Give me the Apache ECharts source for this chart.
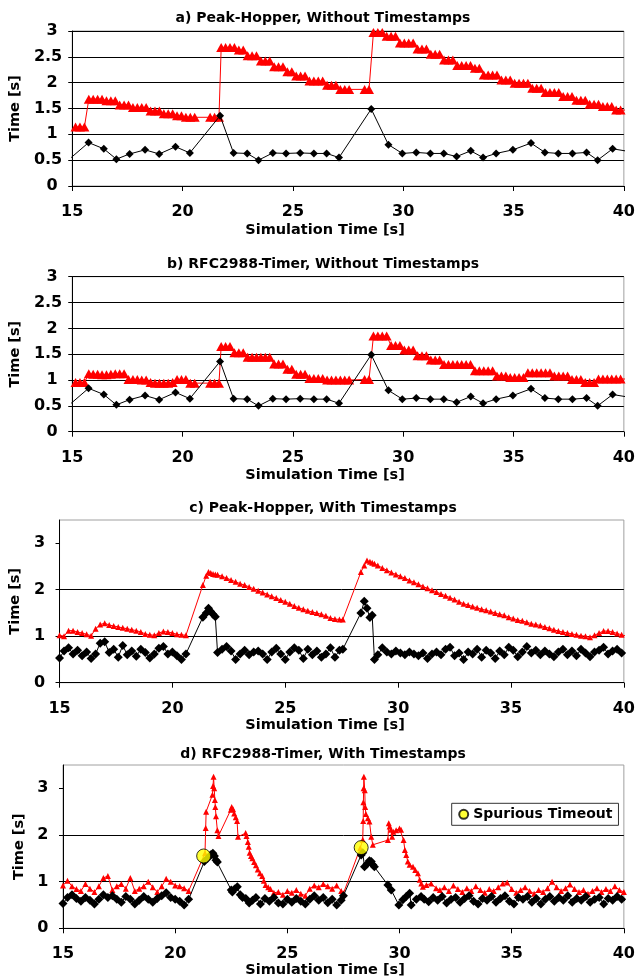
<!DOCTYPE html>
<html>
<head>
<meta charset="utf-8">
<script src="https://cdn.jsdelivr.net/npm/echarts@6/dist/echarts.min.js"></script>
<style>
  html, body { margin: 0; padding: 0; background: #ffffff; }
  #chart { width: 638px; height: 980px; }
</style>
</head>
<body>
<div id="chart"></div>
<script>
// ---------------------------------------------------------------
// Data
// ---------------------------------------------------------------
const panelTitles = [
  'a) Peak-Hopper, Without Timestamps',
  'b) RFC2988-Timer, Without Timestamps',
  'c) Peak-Hopper, With Timestamps',
  'd) RFC2988-Timer, With Timestamps'
];
const xAxisTitle = 'Simulation Time [s]';
const yAxisTitle = 'Time [s]';
const legendLabel = 'Spurious Timeout';

// RTT samples without timestamps (one per round trip), shared by a) and b): [time, RTT]
const rttNoTs = [
  [14.95, 0.55], [15.74, 0.84], [16.43, 0.72], [17.0, 0.52], [17.6, 0.62], [18.3, 0.70],
  [18.94, 0.62], [19.68, 0.76], [20.33, 0.64], [21.7, 1.36], [22.31, 0.64], [22.93, 0.63],
  [23.44, 0.50], [24.09, 0.64], [24.69, 0.63], [25.33, 0.64], [25.95, 0.63], [26.53, 0.63],
  [27.09, 0.55], [28.55, 1.49], [29.33, 0.80], [29.96, 0.63], [30.59, 0.65], [31.23, 0.63],
  [31.84, 0.63], [32.42, 0.57], [33.06, 0.68], [33.62, 0.55], [34.21, 0.63], [34.97, 0.70],
  [35.79, 0.83], [36.42, 0.65], [37.03, 0.63], [37.67, 0.63], [38.31, 0.65], [38.81, 0.50],
  [39.49, 0.72], [40.2, 0.67]
];

// Sample times of the RTO estimate in a) and b)
const rtoTimeNoTs = [
  15.15, 15.35, 15.55, 15.75, 15.95, 16.15, 16.35, 16.55, 16.75, 16.95,
  17.15, 17.35, 17.55, 17.75, 17.95, 18.15, 18.35, 18.55, 18.75, 18.95,
  19.15, 19.35, 19.55, 19.75, 19.95, 20.15, 20.35, 20.55,
  21.25, 21.45, 21.65,
  21.75, 21.95, 22.15, 22.35, 22.55, 22.75, 22.95, 23.15, 23.35, 23.55,
  23.75, 23.95, 24.15, 24.35, 24.55, 24.75, 24.95, 25.15, 25.35, 25.55,
  25.75, 25.95, 26.15, 26.35, 26.55, 26.75, 26.95, 27.15, 27.35, 27.55,
  28.25, 28.45,
  28.65, 28.85, 29.05, 29.25, 29.45, 29.65, 29.85, 30.05, 30.25, 30.45,
  30.65, 30.85, 31.05, 31.25, 31.45, 31.65, 31.85, 32.05, 32.25, 32.45,
  32.65, 32.85, 33.05, 33.25, 33.45, 33.65, 33.85, 34.05, 34.25, 34.45,
  34.65, 34.85, 35.05, 35.25, 35.45, 35.65, 35.85, 36.05, 36.25, 36.45,
  36.65, 36.85, 37.05, 37.25, 37.45, 37.65, 37.85, 38.05, 38.25, 38.45,
  38.65, 38.85, 39.05, 39.25, 39.45, 39.65, 39.85, 40.05
];

// a) Peak-Hopper RTO, without timestamps
const rtoPeakHopperNoTs = [
  1.14, 1.14, 1.14, 1.68, 1.68, 1.68, 1.68, 1.65, 1.65, 1.65,
  1.57, 1.57, 1.57, 1.52, 1.52, 1.52, 1.52, 1.45, 1.45, 1.45,
  1.40, 1.40, 1.40, 1.36, 1.36, 1.33, 1.33, 1.33,
  1.33, 1.33, 1.33,
  2.68, 2.68, 2.68, 2.68, 2.63, 2.63, 2.52, 2.52, 2.52, 2.42,
  2.42, 2.42, 2.31, 2.31, 2.31, 2.21, 2.21, 2.13, 2.13, 2.13,
  2.03, 2.03, 2.03, 2.03, 1.95, 1.95, 1.95, 1.87, 1.87, 1.87,
  1.87, 1.87,
  2.97, 2.97, 2.97, 2.90, 2.90, 2.90, 2.77, 2.77, 2.77, 2.77,
  2.65, 2.65, 2.65, 2.55, 2.55, 2.55, 2.44, 2.44, 2.44, 2.33,
  2.33, 2.33, 2.33, 2.28, 2.28, 2.15, 2.15, 2.15, 2.15, 2.05,
  2.05, 2.05, 1.99, 1.99, 1.99, 1.99, 1.89, 1.89, 1.89, 1.81,
  1.81, 1.81, 1.81, 1.73, 1.73, 1.73, 1.66, 1.66, 1.66, 1.58,
  1.58, 1.58, 1.54, 1.54, 1.54, 1.47, 1.47, 1.47
];

// b) RFC2988 RTO, without timestamps
const rtoRfcNoTs = [
  0.95, 0.95, 0.95, 1.12, 1.11, 1.11, 1.10, 1.10, 1.11, 1.12,
  1.12, 1.12, 1.01, 1.01, 1.01, 1.00, 1.00, 0.95, 0.94, 0.94,
  0.94, 0.94, 0.95, 1.01, 1.01, 1.01, 0.94, 0.94,
  0.94, 0.94, 0.94,
  1.65, 1.65, 1.65, 1.53, 1.53, 1.53, 1.44, 1.44, 1.44, 1.44,
  1.44, 1.44, 1.31, 1.31, 1.31, 1.21, 1.21, 1.11, 1.11, 1.11,
  1.03, 1.03, 1.03, 1.03, 1.00, 1.00, 1.00, 1.00, 1.00, 1.00,
  1.01, 1.01,
  1.85, 1.85, 1.85, 1.85, 1.67, 1.67, 1.67, 1.58, 1.58, 1.58,
  1.47, 1.47, 1.47, 1.39, 1.39, 1.39, 1.30, 1.30, 1.30, 1.30,
  1.30, 1.30, 1.30, 1.18, 1.18, 1.18, 1.18, 1.18, 1.08, 1.08,
  1.08, 1.05, 1.05, 1.05, 1.05, 1.14, 1.14, 1.14, 1.14, 1.14,
  1.14, 1.08, 1.08, 1.08, 1.08, 1.01, 1.01, 1.01, 0.95, 0.95,
  0.95, 1.02, 1.02, 1.02, 1.02, 1.02, 1.02, 1.02
];

// c) Peak-Hopper with timestamps: sample times, RTT and RTO
const timeC = [
  15.0, 15.2, 15.4, 15.6, 15.8, 16.0, 16.2, 16.4, 16.6, 16.8,
  17.0, 17.2, 17.4, 17.6, 17.8, 18.0, 18.2, 18.4, 18.6, 18.8,
  19.0, 19.2, 19.4, 19.6, 19.8, 20.0, 20.2, 20.4, 20.6,
  21.35, 21.5, 21.6, 21.7, 21.8, 21.9,
  22.0, 22.2, 22.4, 22.6, 22.8, 23.0, 23.2, 23.4, 23.6, 23.8,
  24.0, 24.2, 24.4, 24.6, 24.8, 25.0, 25.2, 25.4, 25.6, 25.8,
  26.0, 26.2, 26.4, 26.6, 26.8, 27.0, 27.2, 27.4, 27.55,
  28.35, 28.5, 28.62, 28.75, 28.85, 28.95,
  29.1, 29.3, 29.5, 29.7, 29.9, 30.1, 30.3, 30.5, 30.7, 30.9,
  31.1, 31.3, 31.5, 31.7, 31.9, 32.1, 32.3, 32.5, 32.7, 32.9,
  33.1, 33.3, 33.5, 33.7, 33.9, 34.1, 34.3, 34.5, 34.7, 34.9,
  35.1, 35.3, 35.5, 35.7, 35.9, 36.1, 36.3, 36.5, 36.7, 36.9,
  37.1, 37.3, 37.5, 37.7, 37.9, 38.1, 38.3, 38.5, 38.7, 38.9,
  39.1, 39.3, 39.5, 39.7, 39.9, 40.05
];
const rtoC = [
  1.02, 1.00, 1.12, 1.12, 1.09, 1.07, 1.04, 1.01, 1.16, 1.25,
  1.28, 1.24, 1.22, 1.20, 1.18, 1.16, 1.14, 1.12, 1.09, 1.05,
  1.03, 1.02, 1.07, 1.10, 1.09, 1.07, 1.04, 1.03, 1.02,
  2.10, 2.30, 2.38, 2.36, 2.34, 2.33,
  2.32, 2.29, 2.25, 2.21, 2.17, 2.13, 2.10, 2.06, 2.02, 1.98,
  1.94, 1.90, 1.86, 1.82, 1.78, 1.74, 1.70, 1.65, 1.61, 1.58,
  1.55, 1.52, 1.50, 1.47, 1.44, 1.39, 1.37, 1.36, 1.36,
  2.38, 2.52, 2.63, 2.60, 2.58, 2.56,
  2.52, 2.47, 2.42, 2.37, 2.33, 2.29, 2.25, 2.20, 2.16, 2.12,
  2.07, 2.03, 1.99, 1.95, 1.91, 1.87, 1.83, 1.79, 1.74, 1.70,
  1.67, 1.64, 1.61, 1.58, 1.56, 1.53, 1.50, 1.47, 1.45, 1.41,
  1.38, 1.35, 1.33, 1.30, 1.27, 1.25, 1.23, 1.20, 1.17, 1.14,
  1.11, 1.09, 1.07, 1.05, 1.03, 1.01, 1.00, 0.98, 1.02, 1.07,
  1.11, 1.11, 1.09, 1.06, 1.03, 1.01
];
const rttC = [
  0.53, 0.68, 0.75, 0.62, 0.70, 0.58, 0.66, 0.52, 0.62, 0.85,
  0.88, 0.65, 0.72, 0.55, 0.80, 0.60, 0.68, 0.57, 0.72, 0.65,
  0.53, 0.62, 0.74, 0.78, 0.62, 0.66, 0.58, 0.50, 0.62,
  1.41, 1.50, 1.60, 1.53, 1.47, 1.42,
  0.65, 0.72, 0.78, 0.68, 0.50, 0.62, 0.70, 0.60, 0.66, 0.68,
  0.62, 0.50, 0.66, 0.74, 0.62, 0.50, 0.66, 0.75, 0.70, 0.52,
  0.72, 0.60, 0.68, 0.55, 0.62, 0.75, 0.55, 0.70, 0.72,
  1.50, 1.75, 1.60, 1.40, 1.45, 0.50,
  0.60, 0.75, 0.66, 0.62, 0.68, 0.64, 0.60, 0.66, 0.62, 0.58,
  0.64, 0.52, 0.62, 0.66, 0.60, 0.72, 0.76, 0.58, 0.64, 0.50,
  0.66, 0.62, 0.72, 0.55, 0.70, 0.64, 0.52, 0.68, 0.60, 0.76,
  0.70, 0.56, 0.66, 0.78, 0.64, 0.70, 0.60, 0.68, 0.62, 0.56,
  0.66, 0.72, 0.60, 0.68, 0.58, 0.72, 0.64, 0.56, 0.66, 0.70,
  0.76, 0.62, 0.68, 0.72, 0.64, 0.62
];

// d) RFC2988 timer with timestamps: [time, RTO]
const rtoD = [
  [14.7, 0.95],
  [15.0, 0.92], [15.2, 1.02], [15.4, 0.90], [15.6, 0.84], [15.8, 0.80], [16.0, 0.95], [16.2, 0.85],
  [16.4, 0.78], [16.6, 0.90], [16.8, 1.08], [17.0, 1.12], [17.2, 0.82], [17.4, 0.90], [17.6, 0.95],
  [17.8, 0.85], [18.0, 1.08], [18.2, 0.80], [18.4, 0.85], [18.6, 0.90], [18.8, 1.00], [19.0, 0.88],
  [19.2, 0.78], [19.4, 0.90], [19.6, 1.06], [19.8, 1.00], [20.0, 0.92], [20.2, 0.90], [20.4, 0.86],
  [20.6, 0.80],
  [21.33, 1.61], [21.36, 2.15], [21.38, 2.50], [21.66, 2.86], [21.69, 3.05], [21.71, 3.25],
  [21.74, 3.00], [21.77, 2.75], [21.79, 2.60], [21.82, 2.40], [21.88, 2.10], [21.93, 1.98],
  [22.48, 2.54], [22.52, 2.60], [22.58, 2.55], [22.63, 2.46], [22.70, 2.38], [22.76, 2.30],
  [22.80, 1.96],
  [23.14, 2.04], [23.18, 1.98], [23.24, 1.85], [23.28, 1.75], [23.32, 1.62], [23.38, 1.55],
  [23.44, 1.50], [23.52, 1.42], [23.60, 1.35], [23.68, 1.26], [23.78, 1.18], [23.88, 1.12],
  [23.95, 1.02], [24.03, 0.93], [24.15, 0.88], [24.25, 0.84], [24.40, 0.76],
  [24.6, 0.78], [24.8, 0.72], [25.0, 0.80], [25.2, 0.76], [25.4, 0.82], [25.6, 0.74], [25.8, 0.70],
  [26.0, 0.85], [26.2, 0.92], [26.4, 0.88], [26.6, 0.95], [26.8, 0.90], [27.0, 0.85], [27.2, 0.92],
  [27.4, 0.80], [27.5, 0.75],
  [28.25, 1.72], [28.36, 1.90], [28.38, 2.30], [28.39, 2.70], [28.40, 3.00], [28.41, 3.25],
  [28.45, 2.96], [28.47, 2.60], [28.50, 2.45], [28.59, 2.36], [28.66, 2.29], [28.74, 1.96],
  [28.81, 1.79],
  [29.48, 1.89], [29.52, 2.25], [29.56, 2.18], [29.62, 2.11], [29.67, 1.96], [29.72, 2.07],
  [29.85, 2.10], [30.00, 2.14], [30.07, 2.11], [30.18, 1.89], [30.24, 1.68], [30.30, 1.57],
  [30.37, 1.43], [30.45, 1.36], [30.60, 1.32], [30.70, 1.25], [30.82, 1.18], [30.90, 1.04],
  [30.97, 0.96], [31.04, 0.89], [31.20, 0.93], [31.41, 0.96], [31.63, 0.86],
  [31.8, 0.82], [32.0, 0.88], [32.2, 0.80], [32.4, 0.92], [32.6, 0.84], [32.8, 0.78], [33.0, 0.86],
  [33.2, 0.80], [33.4, 0.90], [33.6, 0.82], [33.8, 0.76], [34.0, 0.84], [34.2, 0.80], [34.4, 0.88],
  [34.6, 0.96], [34.8, 0.98], [35.0, 0.84], [35.2, 0.76], [35.4, 0.82], [35.6, 0.88], [35.8, 0.80],
  [36.0, 0.74], [36.2, 0.82], [36.4, 0.78], [36.6, 0.86], [36.8, 1.00], [37.0, 0.88], [37.2, 0.80],
  [37.4, 0.86], [37.6, 0.94], [37.8, 0.84], [38.0, 0.78], [38.2, 0.82], [38.4, 0.74], [38.6, 0.80],
  [38.8, 0.86], [39.0, 0.78], [39.2, 0.84], [39.4, 0.80], [39.6, 0.90], [39.8, 0.82], [40.0, 0.78],
  [40.2, 0.84], [40.3, 0.85]
];

// d) RTT samples with timestamps: [time, RTT]
const rttD = [
  [14.8, 0.66],
  [15.0, 0.53], [15.2, 0.66], [15.4, 0.72], [15.6, 0.64], [15.8, 0.58], [16.0, 0.66], [16.2, 0.60],
  [16.4, 0.52], [16.6, 0.62], [16.8, 0.72], [17.0, 0.66], [17.2, 0.70], [17.4, 0.62], [17.6, 0.56],
  [17.8, 0.68], [18.0, 0.62], [18.2, 0.52], [18.4, 0.60], [18.6, 0.68], [18.8, 0.62], [19.0, 0.56],
  [19.2, 0.64], [19.4, 0.70], [19.6, 0.76], [19.8, 0.66], [20.0, 0.62], [20.2, 0.58], [20.4, 0.50],
  [20.6, 0.62],
  [21.30, 1.43], [21.45, 1.50], [21.60, 1.58], [21.68, 1.61], [21.75, 1.55], [21.82, 1.46],
  [21.88, 1.42],
  [22.50, 0.82], [22.55, 0.78], [22.65, 0.84], [22.77, 0.89], [22.90, 0.72], [23.00, 0.66],
  [23.15, 0.64], [23.30, 0.54], [23.45, 0.60],
  [23.6, 0.66], [23.8, 0.52], [24.0, 0.64], [24.2, 0.58], [24.4, 0.66], [24.6, 0.54], [24.8, 0.52],
  [25.0, 0.62], [25.2, 0.56], [25.4, 0.64], [25.6, 0.58], [25.8, 0.52], [26.0, 0.62], [26.2, 0.70],
  [26.4, 0.60], [26.6, 0.66], [26.8, 0.55], [27.0, 0.62], [27.2, 0.50], [27.4, 0.60],
  [27.50, 0.70], [28.29, 1.57], [28.36, 1.62], [28.44, 1.32], [28.55, 1.38], [28.66, 1.45],
  [28.74, 1.43], [28.81, 1.36], [28.88, 1.32],
  [29.48, 0.93], [29.63, 0.82], [29.97, 0.50], [30.15, 0.61], [30.30, 0.68], [30.45, 0.75],
  [30.52, 0.50], [30.75, 0.62], [30.96, 0.68], [31.10, 0.62], [31.30, 0.57],
  [31.5, 0.66], [31.7, 0.60], [31.9, 0.68], [32.1, 0.54], [32.3, 0.62], [32.5, 0.66], [32.7, 0.56],
  [32.9, 0.64], [33.1, 0.70], [33.3, 0.58], [33.5, 0.52], [33.7, 0.64], [33.9, 0.60], [34.1, 0.68],
  [34.3, 0.56], [34.5, 0.64], [34.7, 0.70], [34.9, 0.58], [35.1, 0.52], [35.3, 0.66], [35.5, 0.62],
  [35.7, 0.68], [35.9, 0.56], [36.1, 0.64], [36.3, 0.52], [36.5, 0.62], [36.7, 0.68], [36.9, 0.58],
  [37.1, 0.66], [37.3, 0.60], [37.5, 0.70], [37.7, 0.56], [37.9, 0.64], [38.1, 0.60], [38.3, 0.68],
  [38.5, 0.56], [38.7, 0.62], [38.9, 0.66], [39.1, 0.52], [39.3, 0.64], [39.5, 0.60], [39.7, 0.68],
  [39.9, 0.62], [40.1, 0.58], [40.3, 0.62]
];

// d) spurious timeouts: [time, value]
const spuriousD = [[21.27, 1.55], [28.29, 1.73]];

// ---------------------------------------------------------------
// Layout and styling
// ---------------------------------------------------------------
const FONT = '"DejaVu Sans", Verdana, sans-serif';
const RED = '#ff0000';
const BLACK = '#000000';
const X_MIN = 15, X_MAX = 40;

// plot rectangles of the four panels
const grids = [
  { left: 66, top: 31, width: 563, height: 155 },
  { left: 67, top: 276.7, width: 562, height: 155 },
  { left: 58, top: 520, width: 571, height: 162.7 },
  { left: 63, top: 765, width: 566, height: 163.3 }
];
const yMax = [3, 3, 3.5, 3.5];
const yStep = [0.5, 0.5, 1, 1];
const yNameGap = [37, 38, 29, 34];
const titleTops = [11, 257, 501, 747];
const xNameTops = [223, 468, 718, 963];

const pairUp = (ts, vs) => ts.map((t, i) => [t, vs[i]]);
// points beyond the time axis only carry the line, no marker
const withEdges = pts => pts.map(p =>
  (p[0] < X_MIN || p[0] > X_MAX) ? { value: p, symbol: 'none' } : p);

function lineSeries(panel, data, color, symbol, size, z) {
  return {
    type: 'line',
    xAxisIndex: panel,
    yAxisIndex: panel,
    data: withEdges(data),
    symbol: symbol,
    symbolSize: size,
    showAllSymbol: true,
    clip: false,
    animation: false,
    silent: true,
    lineStyle: { color: color, width: 1 },
    itemStyle: { color: color },
    emphasis: { disabled: true },
    z: z
  };
}

const labelStyle = { fontFamily: FONT, fontSize: 16, fontWeight: 'bold', color: BLACK };
const textStyle14 = { fontFamily: FONT, fontSize: 14, fontWeight: 'bold', color: BLACK };

const option = {
  animation: false,
  backgroundColor: '#ffffff',
  title: [
    ...panelTitles.map((t, i) => ({
      text: t, left: 323, top: titleTops[i], padding: 0, textAlign: 'center',
      textStyle: textStyle14
    })),
    ...xNameTops.map(top => ({
      text: xAxisTitle, left: 325, top: top, padding: 0, textAlign: 'center',
      textStyle: Object.assign({}, textStyle14, { fontSize: 14.5 })
    }))
  ],
  legend: {
    data: [legendLabel],
    left: 451.7,
    top: 803.3,
    padding: [4, 6, 4, 6.5],
    itemWidth: 9,
    itemHeight: 9,
    borderColor: '#333333',
    borderWidth: 1,
    backgroundColor: '#ffffff',
    selectedMode: false,
    textStyle: textStyle14,
    z: 10
  },
  grid: grids.map(g => ({
    left: g.left, top: g.top, width: g.width, height: g.height,
    show: true, borderColor: '#a0a0a0', borderWidth: 1, backgroundColor: '#ffffff'
  })),
  xAxis: grids.map((g, i) => ({
    type: 'value',
    gridIndex: i,
    min: X_MIN,
    max: X_MAX,
    interval: 5,
    axisLine: { show: true, onZero: false, lineStyle: { color: BLACK, width: 1 } },
    axisTick: { show: true, inside: false, length: 5, lineStyle: { color: BLACK } },
    splitLine: { show: false },
    axisLabel: Object.assign({ margin: 18 }, labelStyle)
  })),
  yAxis: grids.map((g, i) => {
    const ticks = [];
    for (let v = 0; v <= 3 + 1e-9; v += yStep[i]) ticks.push(Math.round(v * 10) / 10);
    return {
      type: 'value',
      gridIndex: i,
      min: 0,
      max: yMax[i],
      interval: yStep[i],
      name: yAxisTitle,
      nameLocation: 'middle',
      nameGap: yNameGap[i],
      nameTextStyle: Object.assign({}, textStyle14, { fontSize: 14.5 }),
      axisLine: { show: true, onZero: false, lineStyle: { color: BLACK, width: 1 } },
      axisTick: { show: true, inside: false, length: 4, lineStyle: { color: BLACK }, customValues: ticks },
      splitLine: { show: true, showMaxLine: yMax[i] === 3, lineStyle: { color: BLACK, width: 1 } },
      axisLabel: Object.assign({
        margin: 10,
        customValues: ticks,
        formatter: v => (v > 3 ? '' : (Number.isInteger(v) ? '{int|' + v + '}' : String(v))),
        rich: { int: Object.assign({ padding: [0, 4.5, 0, 0] }, labelStyle) }
      }, labelStyle)
    };
  }),
  series: [
    // a)
    lineSeries(0, pairUp(rtoTimeNoTs, rtoPeakHopperNoTs), RED, 'triangle', [10, 9], 2),
    lineSeries(0, rttNoTs, BLACK, 'diamond', 8, 3),
    // b)
    lineSeries(1, pairUp(rtoTimeNoTs, rtoRfcNoTs), RED, 'triangle', [10, 9], 2),
    lineSeries(1, rttNoTs, BLACK, 'diamond', 8, 3),
    // c)
    lineSeries(2, pairUp(timeC, rtoC), RED, 'triangle', 6, 2),
    lineSeries(2, pairUp(timeC, rttC), BLACK, 'diamond', 9, 3),
    // d)
    lineSeries(3, rtoD, RED, 'triangle', 6, 2),
    lineSeries(3, rttD, BLACK, 'diamond', 9, 3),
    {
      name: legendLabel,
      type: 'scatter',
      xAxisIndex: 3,
      yAxisIndex: 3,
      data: spuriousD,
      symbol: 'circle',
      symbolSize: 14,
      clip: false,
      silent: true,
      animation: false,
      itemStyle: { color: '#ffff00', borderColor: BLACK, borderWidth: 1 },
      z: 5
    }
  ]
};

const chart = echarts.init(document.getElementById('chart'), null, { renderer: 'canvas' });
chart.setOption(option);
</script>
</body>
</html>
